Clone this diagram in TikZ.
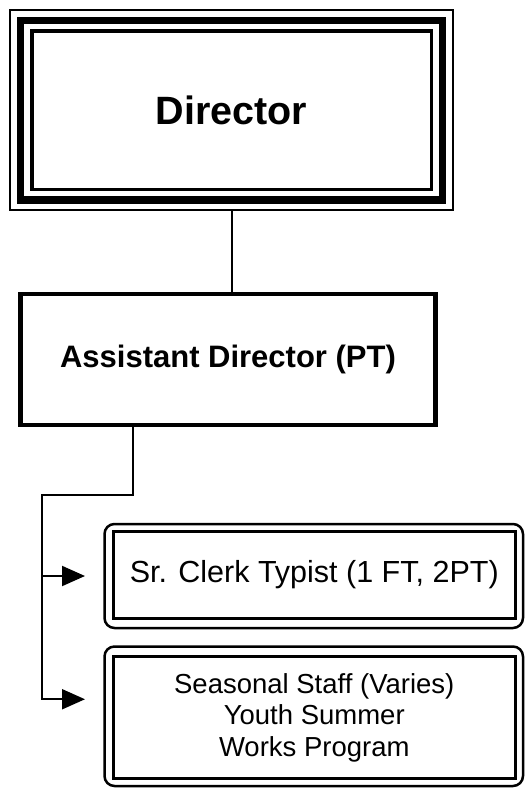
\documentclass[tikz,border=0pt]{standalone}
\usepackage{fontspec}
\setmainfont{Liberation Sans}
\usetikzlibrary{arrows.meta,positioning,calc}
\tikzset{
  dirframe/.style={
    draw, line width=2pt, outer sep=0pt, inner sep=0pt,
    minimum width=443.5pt, minimum height=200.5pt
  },
  dirband/.style={
    draw, line width=7.5pt, outer sep=0pt, inner sep=0pt,
    minimum width=422pt, minimum height=179.5pt
  },
  dirinner/.style={
    draw, line width=3.5pt, outer sep=0pt, inner sep=0pt,
    minimum width=399.5pt, minimum height=158.5pt,
    font=\bfseries\fontsize{39.5}{42}\selectfont
  },
  astbox/.style={
    draw, line width=4.5pt, outer sep=0pt, inner sep=0pt,
    minimum width=415pt, minimum height=131pt,
    font=\bfseries\fontsize{31}{34}\selectfont
  },
  staffouter/.style={
    draw, line width=2.5pt, rounded corners=10pt,
    outer sep=0pt, inner sep=0pt, minimum width=418.5pt
  },
  staffinner/.style={
    draw, line width=3pt, outer sep=0pt, inner sep=0pt,
    minimum width=401.5pt, align=center
  },
  link/.style={line width=2pt},
  arrowlink/.style={
    line width=2pt, -{Triangle[length=23pt,width=20pt]}, shorten >=19.5pt
  },
}
\begin{document}
\begin{tikzpicture}[x=1pt,y=-1pt]
\useasboundingbox (0,0) rectangle (527,788);

% ── Director (triple frame) ───────────────────────────────────────────────────
\node[dirframe] (dir) at (231.5,110) {};
\node[dirband] (dirmid) at (dir) {};
\node[dirinner] (dirtext) at (dir) {Director};

% ── Assistant Director ───────────────────────────────────────────────────────
\node[astbox] (ast) at (228,359.5) {Assistant Director (PT)};

% ── Staff boxes ──────────────────────────────────────────────────────────────
\node[staffouter, minimum height=104pt] (clerk) at (313.75,576) {};
\node[staffinner, minimum height=87pt,
      font=\fontsize{30.5}{32}\selectfont] (clerktext) at (314.25,575)
  {Sr. Clerk Typist (1 FT, 2PT)};

\node[staffouter, minimum height=139.5pt] (seas) at (313.75,716.25) {};
\node[staffinner, minimum height=122pt,
      font=\fontsize{27.5}{31.5}\selectfont] (seastext) at (314.25,717.5)
  {Seasonal Staff (Varies)\\Youth Summer\\Works Program};

% ── Connectors ───────────────────────────────────────────────────────────────
\coordinate (trunk) at (42,495);
\draw[link] (dir.south) -- (dir.south |- ast.north);
\draw[arrowlink] ([xshift=-95pt]ast.south) |- (trunk) |- ([yshift=17pt]seas.west);
\draw[arrowlink] (trunk |- clerk.west) -- (clerk.west);

\end{tikzpicture}
\end{document}
